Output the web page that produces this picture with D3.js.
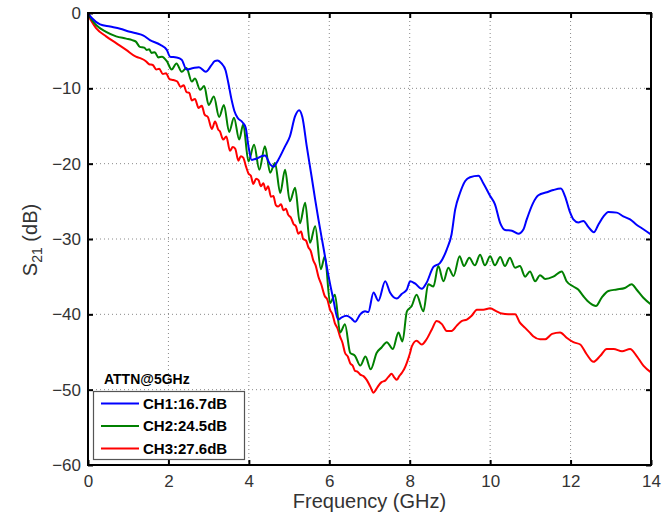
<!DOCTYPE html>
<html>
<head>
<meta charset="utf-8">
<script src="https://cdn.jsdelivr.net/npm/d3@7"></script>
<style>
  html, body { margin: 0; padding: 0; background: #fff; }
  svg { display: block; }
</style>
</head>
<body>
<svg id="chart" width="664" height="523"></svg>
<script>
// Frequency sweep readings (GHz) and insertion loss S21 (dB) per channel
const ch1Freq = [0,0.1,0.3,0.55,0.8,1.04,1.2,1.38,1.54,1.79,1.96,2.04,2.2,2.33,2.45,2.62,2.76,2.93,3.06,3.15,3.22,3.32,3.42,3.49,3.57,3.64,3.72,3.84,3.92,3.99,4.07,4.2,4.32,4.4,4.53,4.61,4.73,4.9,5.02,5.15,5.25,5.33,5.44,5.56,5.65,5.73,5.85,5.98,6.1,6.22,6.31,6.43,6.56,6.64,6.77,6.89,6.97,7.1,7.22,7.39,7.51,7.68,7.8,7.93,8.01,8.13,8.3,8.42,8.59,8.75,8.92,9.04,9.13,9.25,9.38,9.5,9.71,9.83,10.0,10.12,10.25,10.37,10.54,10.7,10.83,10.91,11.07,11.2,11.41,11.57,11.76,11.86,11.99,12.07,12.19,12.32,12.44,12.58,12.69,12.82,12.94,13.15,13.31,13.48,13.64,13.81,14.0];
const ch1Db = [0,-0.7,-1.5,-1.8,-2.1,-2.5,-2.7,-3.0,-3.6,-4.2,-4.9,-5.8,-5.9,-6.2,-7.5,-7.3,-7.2,-7.8,-7.0,-6.4,-6.3,-6.7,-7.6,-9.3,-11.5,-13.0,-13.9,-14.5,-15.2,-17.7,-19.5,-19.3,-19.0,-18.9,-20.1,-20.4,-19.5,-17.7,-16.4,-13.7,-12.9,-13.8,-17.7,-21.7,-24.8,-27.4,-31.0,-34.9,-38.0,-40.7,-40.4,-40.2,-40.6,-41.0,-40.0,-39.6,-39.7,-37.1,-38.2,-35.6,-37.1,-37.9,-37.3,-36.7,-35.6,-35.9,-36.6,-35.8,-33.7,-33.2,-31.4,-29.4,-26.1,-23.9,-22.3,-21.8,-21.6,-22.6,-24.3,-25.4,-27.9,-28.8,-28.9,-29.3,-28.7,-27.4,-25.2,-24.2,-23.8,-23.5,-23.3,-24.3,-26.5,-27.4,-27.8,-27.6,-28.4,-29.1,-28.1,-27.0,-26.4,-26.5,-27.0,-27.4,-28.1,-28.7,-29.4];

const ch2Freq = [0,0.2,0.45,0.7,0.95,1.1,1.19,1.29,1.4,1.46,1.52,1.58,1.66,1.75,1.84,1.96,2.08,2.2,2.33,2.45,2.58,2.66,2.79,2.89,3.0,3.13,3.26,3.38,3.51,3.63,3.76,3.86,3.99,4.13,4.26,4.4,4.53,4.65,4.78,4.9,5.02,5.15,5.27,5.4,5.52,5.65,5.79,5.89,6.02,6.14,6.27,6.39,6.52,6.64,6.77,6.9,7.03,7.18,7.3,7.43,7.58,7.72,7.82,7.93,8.05,8.17,8.34,8.46,8.59,8.71,8.84,8.96,9.09,9.24,9.35,9.48,9.62,9.75,9.87,10.0,10.12,10.25,10.37,10.49,10.62,10.74,10.87,10.99,11.12,11.24,11.37,11.57,11.78,11.9,12.07,12.19,12.32,12.48,12.63,12.77,12.94,13.15,13.35,13.52,13.64,13.81,14.0];
const ch2Db = [-0.2,-1.6,-2.5,-3.1,-3.4,-3.6,-3.8,-4.5,-4.6,-4.9,-4.8,-5.3,-5.2,-5.9,-5.8,-6.4,-7.5,-6.7,-7.8,-7.3,-9.1,-8.7,-10.2,-9.7,-12.2,-11.1,-13.8,-12.2,-15.8,-13.9,-16.8,-14.8,-19.7,-17.5,-20.8,-17.7,-21.2,-19.9,-23.9,-20.8,-25.0,-23.2,-27.9,-25.2,-30.5,-28.3,-34.0,-32.3,-38.5,-37.4,-42.4,-41.3,-45.1,-45.5,-46.8,-45.6,-47.3,-45.1,-44.4,-43.7,-44.6,-42.4,-43.6,-39.6,-38.9,-37.4,-39.6,-36.0,-36.3,-33.6,-35.6,-33.8,-34.9,-32.3,-33.6,-32.5,-33.5,-32.1,-33.5,-32.3,-33.5,-32.4,-33.6,-32.5,-33.8,-33.6,-35.0,-34.3,-35.6,-34.8,-35.3,-35.0,-34.3,-35.6,-36.3,-36.7,-37.6,-38.5,-38.9,-37.8,-36.9,-36.7,-36.5,-36.0,-36.7,-37.8,-38.7];

const ch3Freq = [0,0.2,0.45,0.7,0.95,1.19,1.3,1.44,1.52,1.61,1.7,1.77,1.86,1.94,2.03,2.12,2.22,2.3,2.38,2.45,2.52,2.58,2.66,2.75,2.83,2.9,2.98,3.08,3.16,3.24,3.28,3.36,3.44,3.53,3.6,3.66,3.74,3.8,3.86,3.93,3.99,4.05,4.11,4.18,4.24,4.3,4.36,4.42,4.48,4.55,4.61,4.67,4.73,4.8,4.86,4.92,4.98,5.05,5.11,5.17,5.23,5.3,5.35,5.42,5.48,5.54,5.6,5.66,5.73,5.8,5.89,5.95,6.02,6.08,6.14,6.2,6.27,6.33,6.39,6.46,6.52,6.58,6.64,6.7,6.77,6.85,6.93,7.02,7.1,7.16,7.22,7.3,7.39,7.47,7.55,7.62,7.68,7.74,7.8,7.86,7.93,8.01,8.05,8.17,8.3,8.42,8.55,8.67,8.8,8.92,9.04,9.17,9.29,9.42,9.54,9.67,9.83,10.0,10.16,10.29,10.45,10.62,10.74,10.87,10.98,11.07,11.24,11.37,11.54,11.74,11.9,12.07,12.24,12.4,12.57,12.74,12.9,13.07,13.28,13.48,13.64,13.81,14.0];
const ch3Db = [-0.3,-2.0,-3.1,-4.0,-4.9,-5.8,-6.0,-6.4,-6.8,-6.9,-7.5,-7.4,-8.1,-8.0,-8.8,-8.9,-9.1,-9.8,-9.6,-10.5,-10.6,-11.6,-11.4,-12.6,-12.3,-13.5,-13.8,-15.4,-14.4,-15.5,-15.7,-16.8,-16.4,-18.3,-17.8,-18.0,-19.6,-19.0,-19.2,-20.4,-21.3,-21.6,-22.7,-22.0,-22.2,-23.0,-22.6,-23.5,-23.0,-24.4,-24.3,-25.5,-25.7,-25.4,-26.2,-26.0,-26.8,-27.2,-28.0,-28.3,-29.3,-29.0,-30.0,-30.2,-31.1,-31.6,-32.8,-33.5,-35.0,-36.0,-37.6,-38.0,-39.4,-40.0,-41.2,-41.8,-43.0,-43.8,-45.1,-45.6,-46.5,-46.8,-47.5,-47.6,-48.0,-48.2,-48.7,-49.6,-50.4,-50.0,-49.5,-49.0,-48.8,-48.3,-47.9,-48.4,-48.7,-48.2,-47.8,-47.3,-46.4,-45.1,-44.3,-43.5,-44.0,-43.3,-42.0,-40.9,-41.3,-42.2,-42.2,-41.5,-40.9,-40.7,-40.2,-39.4,-39.4,-39.2,-39.6,-39.9,-40.0,-40.0,-41.1,-41.8,-42.4,-42.9,-43.3,-43.3,-42.6,-42.4,-43.1,-43.7,-44.0,-45.3,-46.3,-45.5,-44.6,-44.6,-44.9,-44.6,-45.5,-46.8,-47.7];

const channelNames = ["CH1:16.7dB", "CH2:24.5dB", "CH3:27.6dB"];
const channelColors = ["#0000ff", "#008000", "#ff0000"];
const xTicks = [0, 2, 4, 6, 8, 10, 12, 14];
const yTicks = [0, -10, -20, -30, -40, -50, -60];
const legendTitle = "ATTN@5GHz";

const channels = [
  { name: channelNames[0], color: channelColors[0], pts: ch1Freq.map((f, i) => [f, ch1Db[i]]) },
  { name: channelNames[1], color: channelColors[1], pts: ch2Freq.map((f, i) => [f, ch2Db[i]]) },
  { name: channelNames[2], color: channelColors[2], pts: ch3Freq.map((f, i) => [f, ch3Db[i]]) }
];

const plot = { left: 88, right: 651, top: 13, bottom: 465 };
const svg = d3.select("#chart");

const x = d3.scaleLinear().domain([0, 14]).range([plot.left, plot.right]);
const y = d3.scaleLinear().domain([-60, 0]).range([plot.bottom, plot.top]);

const tickFont = "'Liberation Sans', Arial, sans-serif";

// dotted grid
const grid = svg.append("g").attr("stroke", "#8a8a8a").attr("stroke-width", 1).attr("stroke-dasharray", "1,3");
xTicks.slice(1, -1).forEach(t => {
  grid.append("line").attr("x1", x(t)).attr("x2", x(t)).attr("y1", plot.top).attr("y2", plot.bottom);
});
yTicks.slice(1, -1).forEach(t => {
  grid.append("line").attr("x1", plot.left).attr("x2", plot.right).attr("y1", y(t)).attr("y2", y(t));
});

// traces
const line = d3.line().x(d => x(d[0])).y(d => y(d[1])).curve(d3.curveMonotoneX);
const traces = svg.append("g").attr("fill", "none").attr("stroke-width", 2).attr("stroke-linejoin", "round");
channels.slice().reverse().forEach(c => {
  traces.append("path").attr("d", line(c.pts)).attr("stroke", c.color);
});

// axes: ticks pointing inward on all four sides
const tickLen = 5;
const axB = svg.append("g").attr("transform", `translate(0,${plot.bottom})`)
  .call(d3.axisBottom(x).tickValues(xTicks).tickSizeInner(-tickLen).tickSizeOuter(0).tickPadding(10).tickFormat(d3.format("d")));
const axT = svg.append("g").attr("transform", `translate(0,${plot.top})`)
  .call(d3.axisTop(x).tickValues(xTicks).tickSizeInner(-tickLen).tickSizeOuter(0).tickFormat(""));
const axL = svg.append("g").attr("transform", `translate(${plot.left},0)`)
  .call(d3.axisLeft(y).tickValues(yTicks).tickSizeInner(-tickLen).tickSizeOuter(0).tickPadding(7));
const axR = svg.append("g").attr("transform", `translate(${plot.right},0)`)
  .call(d3.axisRight(y).tickValues(yTicks).tickSizeInner(-tickLen).tickSizeOuter(0).tickFormat(""));

[axB, axT, axL, axR].forEach(a => {
  a.select(".domain").remove();
  a.selectAll(".tick line").attr("stroke", "#000").attr("stroke-width", 2);
  a.selectAll("text").attr("font-family", tickFont).attr("font-size", 17).attr("fill", "#333");
});
axB.selectAll("text").attr("dy", "0.71em");

// frame
svg.append("rect")
  .attr("x", plot.left).attr("y", plot.top)
  .attr("width", plot.right - plot.left).attr("height", plot.bottom - plot.top)
  .attr("fill", "none").attr("stroke", "#000").attr("stroke-width", 2);

// axis titles
svg.append("text")
  .attr("x", (plot.left + plot.right) / 2).attr("y", 508)
  .attr("text-anchor", "middle")
  .attr("font-family", tickFont).attr("font-size", 20).attr("fill", "#333")
  .text("Frequency (GHz)");

const yTitle = svg.append("text")
  .attr("transform", "translate(37,240) rotate(-90)")
  .attr("text-anchor", "middle")
  .attr("font-family", tickFont).attr("font-size", 20).attr("fill", "#333");
yTitle.append("tspan").text("S");
yTitle.append("tspan").attr("font-size", 14).attr("dy", 5).text("21");
yTitle.append("tspan").attr("dy", -5).text(" (dB)");

// legend
svg.append("text")
  .attr("x", 104).attr("y", 384)
  .attr("font-family", tickFont).attr("font-size", 14).attr("font-weight", "bold").attr("fill", "#000")
  .text(legendTitle);

const lg = svg.append("g");
lg.append("rect")
  .attr("x", 93.5).attr("y", 391.5).attr("width", 151).attr("height", 68)
  .attr("fill", "#fff").attr("stroke", "#555").attr("stroke-width", 1.2);
channels.forEach((c, i) => {
  const yy = 403.5 + i * 22.5;
  lg.append("line").attr("x1", 101).attr("x2", 139).attr("y1", yy).attr("y2", yy)
    .attr("stroke", c.color).attr("stroke-width", 2);
  lg.append("text").attr("x", 143).attr("y", yy).attr("dy", "0.36em")
    .attr("font-family", tickFont).attr("font-size", 15).attr("font-weight", "bold").attr("fill", "#000")
    .text(c.name);
});
</script>
</body>
</html>
